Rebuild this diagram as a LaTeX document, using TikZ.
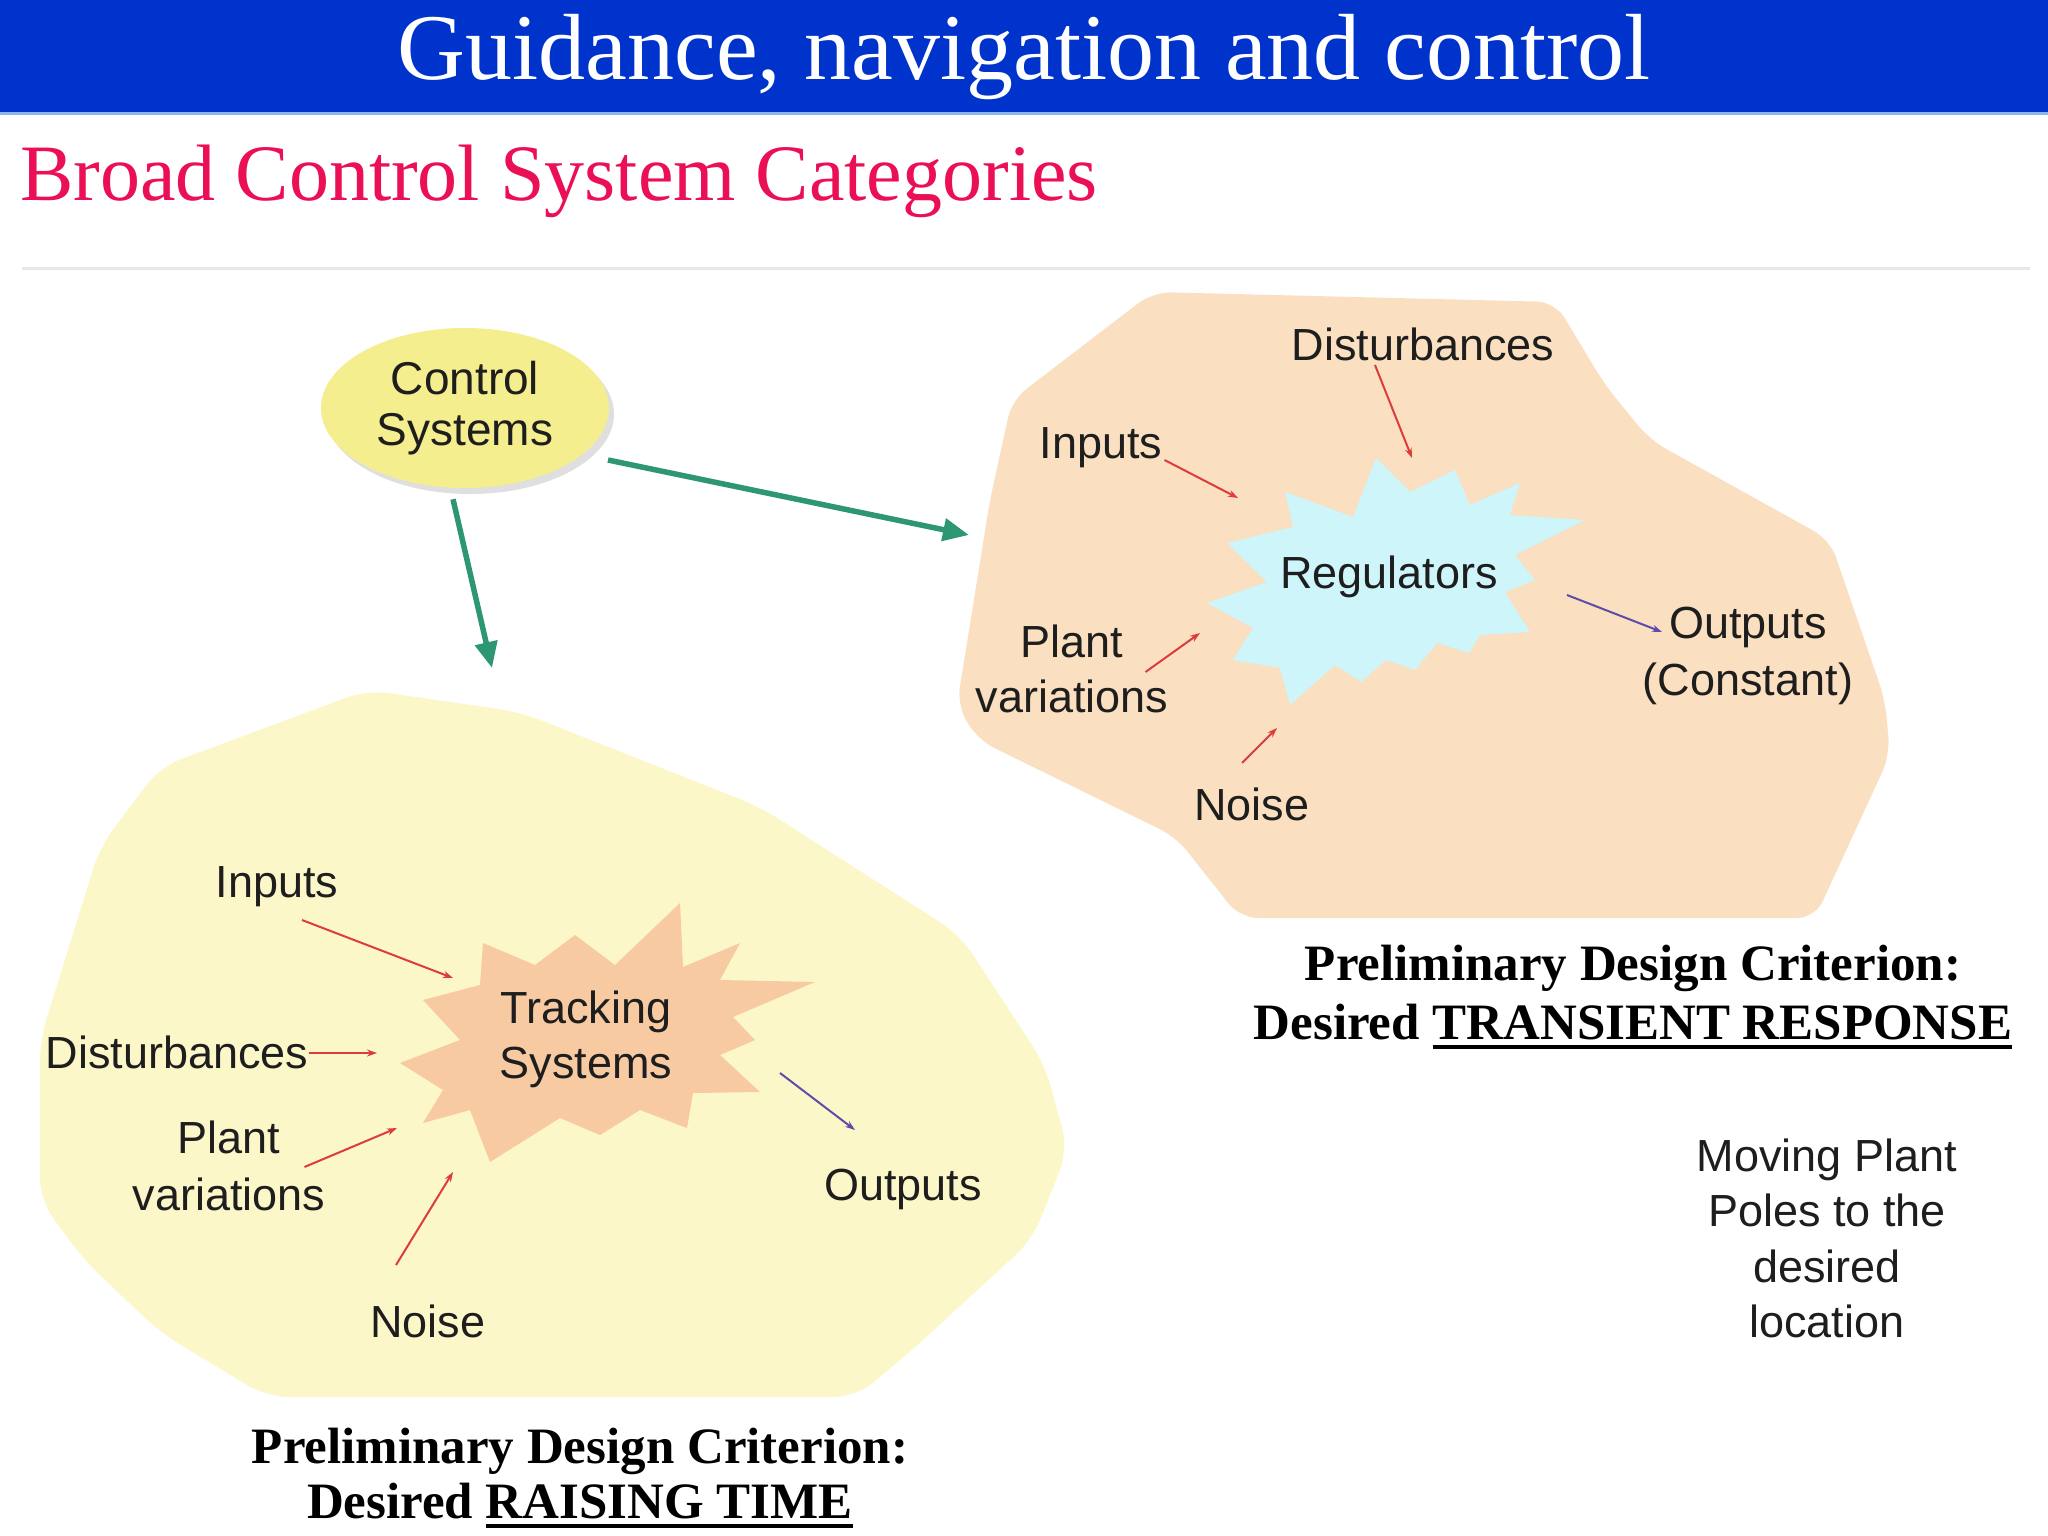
\documentclass[tikz,border=0pt]{standalone}
\usepackage{fontspec}
\setmainfont{Liberation Serif}
\newfontfamily\hv{Liberation Sans}
\usetikzlibrary{arrows.meta,shapes.geometric,shadows,calc}
\definecolor{barblue}{RGB}{0,51,204}
\definecolor{barline}{RGB}{140,180,240}
\definecolor{subred}{RGB}{235,15,85}
\definecolor{sepgray}{RGB}{232,232,232}
\definecolor{peach}{RGB}{250,223,192}
\definecolor{pyellow}{RGB}{252,247,200}
\definecolor{cyanstar}{RGB}{205,245,250}
\definecolor{salmon}{RGB}{247,202,162}
\definecolor{ellfill}{RGB}{244,238,142}
\definecolor{grc}{RGB}{45,150,115}
\definecolor{redc}{RGB}{220,60,60}
\definecolor{purc}{RGB}{95,75,170}
\definecolor{txt}{RGB}{30,30,30}
\newcommand\myul[1]{\vtop{\hbox{#1}\kern5pt\hrule height 4.5pt}}
\begin{document}
\begin{tikzpicture}[x=1pt,y=-1pt,
  lbl/.style={font=\hv\fontsize{45}{55}\selectfont, text=txt, inner sep=0pt, anchor=base},
  redarr/.style={draw=redc, line width=2pt, -{Stealth[length=10pt,width=7pt]}},
  purarr/.style={draw=purc, line width=2pt, -{Stealth[length=10pt,width=7pt]}},
  grarr/.style={draw=grc, line width=5.5pt, -{Triangle[length=26pt,width=22pt]}},
  crit/.style={font=\bfseries\fontsize{51}{56}\selectfont, text=black, inner sep=0pt, anchor=base}
]
\useasboundingbox (0,0) rectangle (2048,1536);
\fill[white] (0,0) rectangle (2048,1536);
% header
\fill[barblue] (0,0) rectangle (2048,112);
\fill[barline] (0,112) rectangle (2048,115);
\node[font=\fontsize{94}{100}\selectfont, text=white, inner sep=0pt, anchor=base] (title) at (1024,80) {Guidance, navigation and control};
\node[font=\fontsize{80}{90}\selectfont, text=subred, inner sep=0pt, anchor=base west] (sub) at (20,200) {Broad Control System Categories};
\fill[sepgray] (22,267) rectangle (2030,270);

% regions
\fill[peach, rounded corners=18pt] (1153,292) -- (1555,302) -- (1605,385) -- (1650,440) -- (1830,540) -- (1885,700) -- (1890,755) -- (1815,918) -- (1240,918) -- (1176,837) -- (978,740) -- (957,705) -- (990,500) -- (1012,400) -- cycle;
\fill[pyellow, rounded corners=22pt] (367,690) -- (520,712) -- (760,807) -- (960,935) -- (1045,1065) -- (1068,1150) -- (1032,1240) -- (912,1350) -- (856,1397) -- (267,1397) -- (161,1333) -- (84,1260) -- (40,1200) -- (40,1040) -- (100,847) -- (160,767) -- cycle;

% stars
\fill[cyanstar] (1376,458) -- (1410,492) -- (1455,470) -- (1470,505) -- (1520,483) -- (1510,515) -- (1585,520) -- (1515,555) -- (1535,580) -- (1505,592) -- (1530,632) -- (1480,635) -- (1469,653) -- (1437,643) -- (1415,670) -- (1386,660) -- (1361,682) -- (1335,665) -- (1290,705) -- (1280,668) -- (1233,660) -- (1253,628) -- (1207,603) -- (1267,582) -- (1227,543) -- (1293,527) -- (1285,492) -- (1353,517) -- cycle;
\fill[salmon] (483,943) -- (535,965) -- (575,935) -- (615,965) -- (680,903) -- (683,967) -- (740,943) -- (720,980) -- (815,982) -- (733,1017) -- (755,1040) -- (720,1055) -- (760,1092) -- (693,1093) -- (687,1128) -- (640,1110) -- (600,1135) -- (560,1118) -- (490,1162) -- (470,1110) -- (423,1123) -- (443,1090) -- (400,1063) -- (460,1040) -- (423,1000) -- (480,985) -- cycle;

% control systems ellipse
\node[ellipse, fill=ellfill, minimum width=288pt, minimum height=160pt, inner sep=0pt,
  drop shadow={shadow xshift=5pt, shadow yshift=-6pt, opacity=0.25},
  font=\hv\fontsize{46}{51}\selectfont, text=txt, align=center] (cs) at (465,408) {Control\\Systems};

% arrow end points
\coordinate (tsTop) at (492,668);
\coordinate (rgLeft) at (969,535);
\draw[grarr] ($(cs.south)+(-12,11)$) -- (tsTop);
\draw[grarr] ($(cs.center)+(143,52)$) -- (rgLeft);

% Regulators labels
\node[lbl] (reg) at (1389,588) {Regulators};
\node[lbl] (rDist) at (1423,360) {Disturbances};
\node[lbl] (rIn) at (1101,458) {Inputs};
\node[lbl] (rPlant) at (1072,657) {Plant};
\node[lbl] (rVar) at (1072,712) {variations};
\node[lbl] (rNoise) at (1252,820) {Noise};
\node[lbl] (rOut) at (1748,638) {Outputs};
\node[lbl] (rConst) at (1748,695) {(Constant)};

\coordinate (rDistE) at (1412,458);
\coordinate (rInE) at (1238,498);
\coordinate (rPlantE) at (1200,633);
\coordinate (rNoiseE) at (1277,728);
\coordinate (rOutS) at (1567,595);
\draw[redarr] ($(rDist.base)+(-48,5)$) -- (rDistE);
\draw[redarr] ($(rIn.base east)+(2,2)$) -- (rInE);
\draw[redarr] ($(rPlant.base east)+(22,15)$) -- (rPlantE);
\draw[redarr] ($(rNoise.base)+(-10,-57)$) -- (rNoiseE);
\draw[purarr] (rOutS) -- ($(rOut.base west)+(-7,-6)$);

% Tracking labels
\node[lbl] (trk) at (586,1023) {Tracking};
\node[lbl] (sys) at (586,1078) {Systems};
\node[lbl] (tIn) at (277,897) {Inputs};
\node[lbl] (tDist) at (177,1068) {Disturbances};
\node[lbl] (tPlant) at (229,1153) {Plant};
\node[lbl] (tVar) at (229,1210) {variations};
\node[lbl] (tNoise) at (428,1337) {Noise};
\node[lbl] (tOut) at (903,1200) {Outputs};

\coordinate (tInE) at (453,978);
\coordinate (tDistE) at (377,1053);
\coordinate (tPlantE) at (397,1128);
\coordinate (tNoiseE) at (453,1172);
\coordinate (tOutS) at (780,1073);
\draw[redarr] ($(tIn.base)+(25,23)$) -- (tInE);
\draw[redarr] ($(tDist.base east)+(0,-15)$) -- (tDistE);
\draw[redarr] ($(tPlant.base east)+(24,14)$) -- (tPlantE);
\draw[redarr] ($(tNoise.base)+(-32,-72)$) -- (tNoiseE);
\draw[purarr] (tOutS) -- ($(tOut.base)+(-48,-70)$);

% criteria
\node[crit] (rc1) at (1633,980) {Preliminary Design Criterion:};
\node[crit] (rc2) at (1633,1039) {Desired \myul{TRANSIENT RESPONSE}};
\node[crit] (lc1) at (580,1463) {Preliminary Design Criterion:};
\node[crit] (lc2) at (580,1518) {Desired \myul{RAISING TIME}};

% moving plant poles
\node[lbl] (mp1) at (1827,1171) {Moving Plant};
\node[lbl] (mp2) at (1827,1226) {Poles to the};
\node[lbl] (mp3) at (1827,1282) {desired};
\node[lbl] (mp4) at (1827,1337) {location};
\end{tikzpicture}
\end{document}
